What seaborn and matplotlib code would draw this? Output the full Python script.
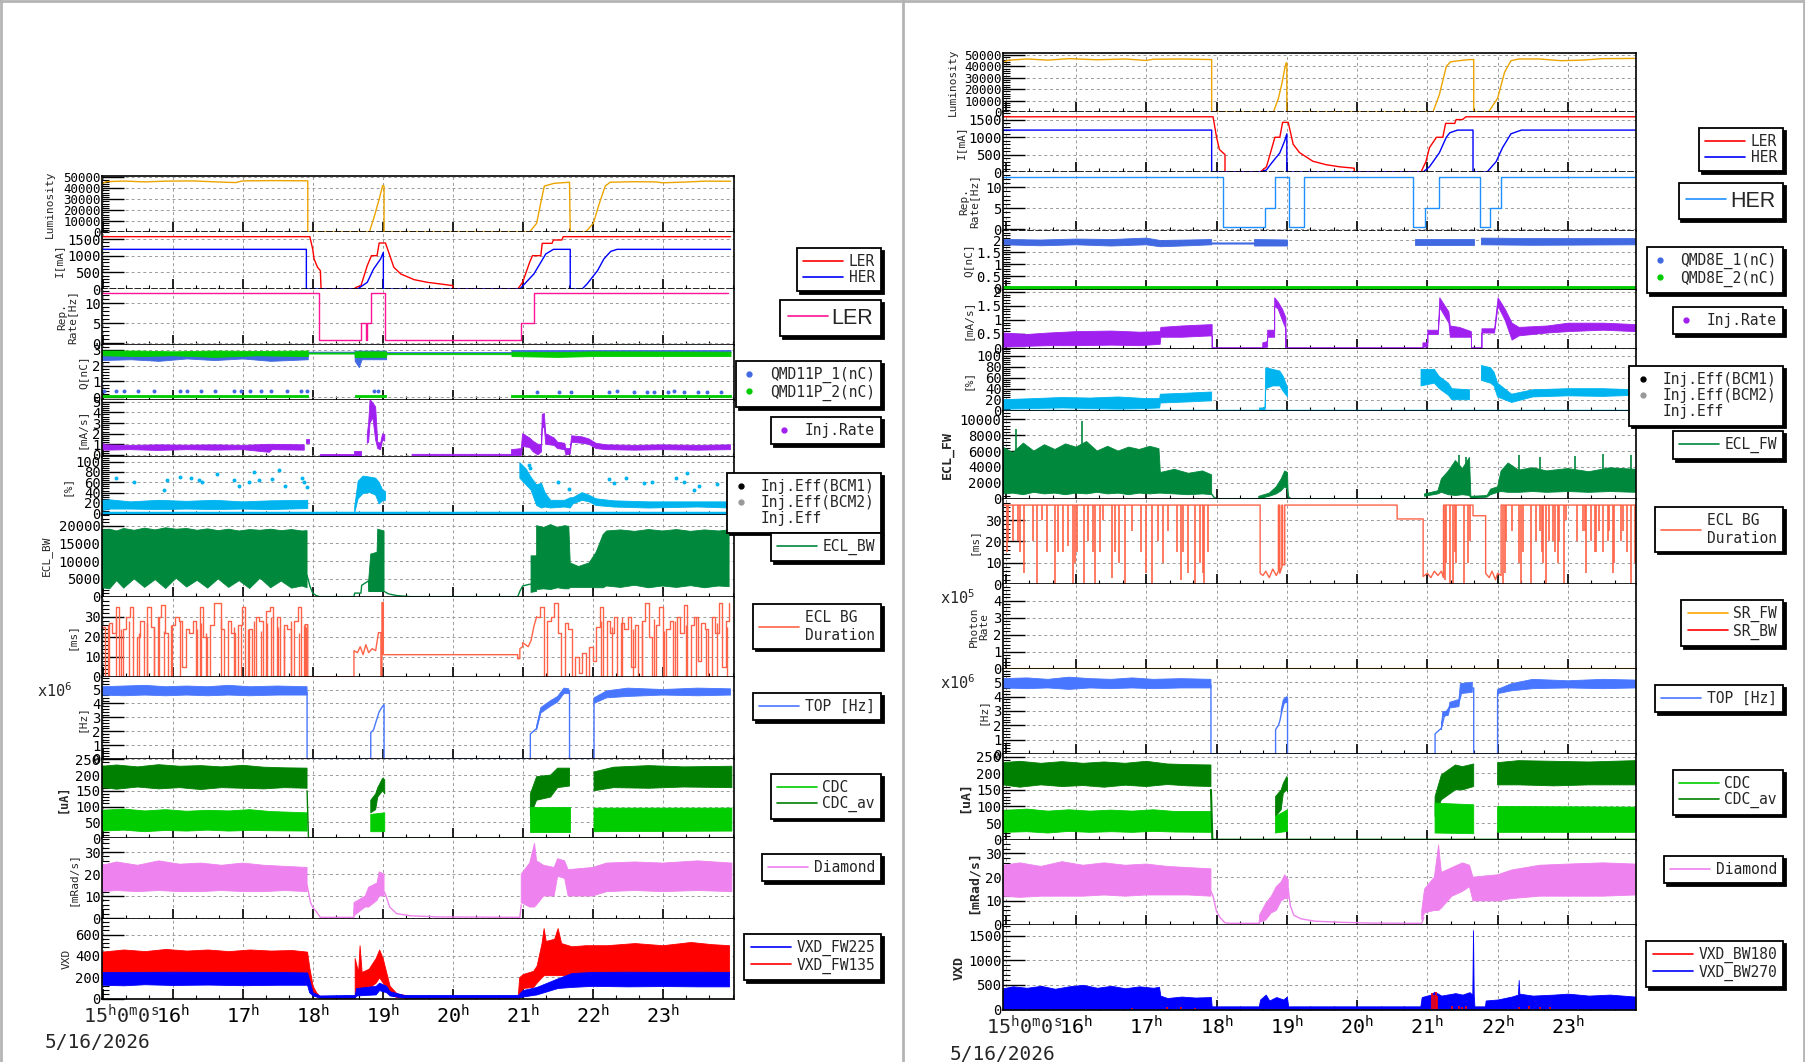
import numpy as np
import matplotlib
matplotlib.use("Agg")
import matplotlib.pyplot as plt
from matplotlib.lines import Line2D
from matplotlib.ticker import MultipleLocator, FuncFormatter
import seaborn as sns

nan = np.nan
W, H = 1806, 1062

# ======================= left canvas (LER side) =======================
lumi_l = [(14.99, 44000), (15.05, 46000), (15.3, 46600), (15.6, 45800), (15.9, 46500), (16.3, 46700),
          (16.7, 45600), (16.9, 45200), (17.0, 46700), (17.4, 47000), (17.93, 46800), (17.93, 0), (18.81, 0),
          (18.88, 14000), (18.95, 30000), (19.0, 42500), (19.02, 42000), (19.02, 0), (21.1, 0), (21.2, 8000),
          (21.27, 30000), (21.31, 42000), (21.45, 44500), (21.67, 45500), (21.68, 0), (21.9, 0), (22.01, 8000),
          (22.1, 27000), (22.18, 42000), (22.25, 45500), (22.6, 46000), (22.9, 45800), (23.0, 45000),
          (23.3, 45600), (23.6, 46500), (23.97, 46400)]
ler_l = [(14.99, 1570), (17.96, 1570), (18.0, 1200), (18.02, 900), (18.07, 650), (18.11, 550), (18.12, 0),
         (18.59, 0), (18.62, 50), (18.69, 100), (18.78, 700), (18.84, 1000), (18.92, 1000), (18.95, 1380),
         (19.04, 1380), (19.07, 1200), (19.16, 650), (19.26, 450), (19.45, 280), (19.64, 200), (19.83, 150),
         (19.97, 110), (20.0, 110), (20.0, 0), (20.93, 0), (21.0, 200), (21.1, 800), (21.14, 1000),
         (21.26, 1000), (21.28, 1370), (21.42, 1370), (21.44, 1470), (21.56, 1470), (21.58, 1570), (23.97, 1570)]
her_l = [(14.99, 1190), (17.91, 1190), (17.91, 0), (18.64, 0), (18.78, 200), (18.87, 600), (18.97, 900),
         (19.01, 1100), (19.01, 0), (20.96, 0), (21.16, 450), (21.26, 800), (21.33, 1050), (21.44, 1190),
         (21.68, 1190), (21.68, 0), (21.85, 0), (21.92, 150), (22.07, 550), (22.16, 900), (22.26, 1130),
         (22.35, 1190), (23.97, 1190)]
rep_l = [(14.99, 12.5), (18.09, 12.5), (18.09, 0.75), (18.69, 0.75), (18.69, 5), (18.755, 5), (18.755, 0.75),
         (18.77, 0.75), (18.77, 5), (18.83, 5), (18.83, 12.5), (19.03, 12.5), (19.03, 0.75), (20.98, 0.75),
         (20.98, 5), (21.16, 5), (21.16, 12.5), (23.94, 12.5)]
qmd1_l = [(14.99, 2.35, 2.85), (15.4, 2.4, 2.85), (15.8, 2.3, 2.8), (16.2, 2.45, 2.85), (16.6, 2.35, 2.8),
          (17.0, 2.45, 2.85), (17.4, 2.3, 2.8), (17.93, 2.4, 2.8), (17.93, 2.82, 2.88), (18.6, 2.82, 2.88),
          (18.6, 2.3, 2.95), (18.66, 1.9, 2.95), (18.7, 2.4, 2.95), (19.05, 2.4, 2.95), (19.05, 2.8, 2.86),
          (20.84, 2.8, 2.86), (20.84, 2.85, 2.98), (23.97, 2.85, 2.98)]
qmd2_l = [(14.99, 2.65, 2.95), (15.5, 2.6, 2.95), (16.0, 2.65, 2.9), (16.6, 2.55, 2.95), (17.2, 2.65, 2.92),
          (17.93, 2.6, 2.95), (17.93, 2.76, 2.82), (18.6, 2.76, 2.82), (18.6, 2.55, 2.9), (19.05, 2.55, 2.9),
          (19.05, 2.72, 2.79), (20.84, 2.72, 2.79), (20.84, 2.6, 2.88), (21.5, 2.55, 2.85), (22.0, 2.6, 2.9),
          (23.97, 2.6, 2.88)]
qmd2_low_l = [(14.99, 0.0, 0.13), (17.93, 0.0, 0.13), (17.93, nan, nan), (18.6, 0.0, 0.13), (19.05, 0.0, 0.13),
              (19.05, nan, nan), (20.84, 0.0, 0.13), (23.97, 0.0, 0.13)]
qmd1_dot_t = [15.02, 15.19, 15.3, 15.5, 15.73, 16.11, 16.21, 16.4, 16.61, 16.88, 16.97, 17.11, 17.26, 17.4,
              17.64, 17.83, 17.92, 18.87, 18.93, 21.21, 21.52, 21.69, 22.23, 22.35, 22.59, 22.78, 22.88, 23.07,
              23.16, 23.3, 23.5, 23.64, 23.83]
qmd1_dot_v = [0.4, 0.4, 0.38, 0.42, 0.4, 0.4, 0.38, 0.4, 0.42, 0.4, 0.4, 0.38, 0.4, 0.42, 0.4, 0.4, 0.38, 0.4,
              0.4, 0.36, 0.36, 0.36, 0.36, 0.38, 0.36, 0.36, 0.36, 0.36, 0.38, 0.36, 0.36, 0.36, 0.36]
injr_l = [(14.99, 0.5, 1.1), (15.05, 0.45, 0.95), (15.4, 0.5, 0.9), (15.8, 0.42, 0.95), (16.2, 0.5, 0.92),
          (16.6, 0.45, 0.95), (17.0, 0.5, 0.9), (17.38, 0.25, 1.0), (17.42, 0.5, 1.0), (17.88, 0.45, 0.95),
          (17.88, nan, nan), (17.9, 1.1, 1.5), (17.95, 1.1, 1.5), (17.95, nan, nan), (18.11, -0.06, 0.06),
          (18.59, -0.06, 0.06), (18.59, -0.05, 0.35), (18.69, -0.05, 0.35), (18.69, nan, nan),
          (18.78, 1.1, 1.9), (18.8, 1.2, 3.0), (18.82, 3.0, 5.2), (18.86, 3.5, 4.9), (18.9, 1.4, 4.5),
          (18.93, 0.6, 1.2), (18.97, 0.5, 1.1), (19.0, 1.4, 2.0), (19.03, 1.3, 1.9), (19.03, nan, nan),
          (19.42, -0.06, 0.06), (20.84, -0.06, 0.06), (20.84, -0.05, 0.5), (20.98, -0.05, 0.6),
          (21.0, 0.8, 2.0), (21.1, 0.7, 1.6), (21.15, 0.3, 1.3), (21.22, 0.0, 1.0), (21.27, 0.3, 1.0),
          (21.28, 2.5, 3.8), (21.31, 2.6, 3.9), (21.33, 1.0, 2.0), (21.45, 0.9, 1.6), (21.5, 0.6, 1.2),
          (21.6, 0.5, 1.1), (21.62, 0.0, 0.6), (21.68, 0.1, 0.6), (21.7, 1.2, 1.8), (21.85, 1.1, 1.7),
          (21.95, 1.0, 1.5), (22.05, 0.6, 1.1), (22.2, 0.5, 0.95), (22.6, 0.45, 0.9), (23.0, 0.5, 0.95),
          (23.5, 0.45, 0.9), (23.97, 0.5, 0.95)]
eff_l = [(14.99, 5, 25), (15.1, 8, 26), (15.4, 8, 22), (15.8, 7, 25), (16.2, 8, 23), (16.6, 7, 25),
         (17.0, 8, 22), (17.4, 7, 24), (17.93, 9, 25), (17.93, nan, nan), (18.6, 0, 12), (18.65, 28, 62),
         (18.72, 38, 72), (18.82, 40, 70), (18.9, 35, 68), (18.95, 18, 60), (19.0, 24, 45), (19.04, 25, 42),
         (19.04, nan, nan), (20.96, 68, 98), (21.05, 55, 86), (21.12, 45, 70), (21.2, 15, 55), (21.27, 10, 58),
         (21.32, 12, 40), (21.4, 10, 25), (21.6, 12, 25), (21.68, 10, 30), (21.72, 18, 30), (21.85, 25, 40),
         (21.95, 22, 35), (22.05, 15, 28), (22.3, 12, 24), (22.8, 10, 22), (23.5, 12, 22), (23.97, 10, 22)]
eff_dot_t = [15.19, 15.45, 15.88, 15.92, 16.11, 16.26, 16.38, 16.42, 16.64, 16.88, 16.95, 17.09, 17.16, 17.23,
             17.42, 17.52, 17.61, 17.85, 17.88, 17.92, 21.09, 21.11, 21.5, 21.66, 22.23, 22.3, 22.47, 22.73,
             22.85, 23.19, 23.3, 23.35, 23.45, 23.52, 23.78, 23.93]
eff_dot_v = [68, 61, 45, 65, 70, 68, 65, 61, 76, 65, 52, 61, 79, 65, 66, 83, 53, 68, 61, 50, 94, 87, 61, 46, 66,
             58, 68, 58, 60, 68, 60, 77, 45, 52, 56, 59]
eclbw_l = [(14.99, 2500, 18800), (15.1, 2200, 19000), (15.2, 4500, 18500), (15.3, 2400, 19200),
           (15.45, 5000, 18700), (15.6, 2600, 19300), (15.75, 4800, 18800), (15.9, 2300, 19400),
           (16.05, 5200, 19000), (16.2, 2700, 19200), (16.35, 4600, 18700), (16.5, 2400, 19100),
           (16.65, 5000, 18600), (16.8, 2600, 19000), (16.95, 4500, 18500), (17.1, 2300, 18900),
           (17.25, 5200, 18700), (17.4, 2500, 19000), (17.55, 4400, 18600), (17.7, 2400, 18900),
           (17.85, 3000, 18500), (17.92, 2500, 18600), (17.92, nan, nan), (18.8, 1500, 4500), (18.83, 1500, 12000),
           (18.92, 1500, 12500), (18.93, 1500, 19000), (19.02, 1500, 18500), (19.02, nan, nan),
           (21.12, 1200, 11500), (21.2, 1500, 11500), (21.2, 2000, 20000), (21.3, 2200, 19500),
           (21.4, 2000, 20300), (21.5, 2500, 19500), (21.6, 2200, 20000), (21.66, 2200, 19800),
           (21.68, 2600, 9500), (21.8, 2600, 8500), (21.95, 2600, 9500), (22.05, 2500, 12500),
           (22.15, 2500, 17500), (22.2, 3000, 18500), (22.4, 2600, 18800), (22.6, 3200, 18400),
           (22.8, 2500, 18900), (23.0, 3000, 18500), (23.2, 2600, 18900), (23.4, 3100, 18400),
           (23.6, 2500, 18800), (23.8, 3000, 18500), (23.95, 2800, 18800)]
eclbw_line_l = [(17.92, 6000), (17.96, 3000), (18.0, 1000), (18.05, 300), (18.1, 0), (18.59, 0), (18.6, 1000),
                (18.69, 1000), (18.7, 3200), (18.78, 4200), (18.8, 4500), (18.81, 1500), (19.02, 1500),
                (19.08, 800), (19.2, 300), (19.4, 0), (20.93, 0), (20.96, 1500), (21.0, 3000), (21.1, 3500),
                (21.12, 3500)]
ms_l_vals = [25, 0, 27, 22, 35, 0, 24, 30, 35, 0, 20, 28, 0, 35, 25, 0, 30, 36, 22, 0, 26, 30, 28, 5, 24, 22,
             28, 0, 35, 20, 0, 26, 37, 37, 24, 0, 28, 22, 0, 26, 35, 0, 24, 0, 30, 28, 0, 33, 35, 0, 30, 0, 26,
             24, 0, 28, 35, 0, 26]
ms_l_dip_t = [15.07, 15.19, 15.26, 15.38, 15.52, 15.64, 15.73, 15.8, 15.88, 15.97, 16.11, 16.35, 16.4, 16.47,
              16.69, 16.88, 16.97, 17.07, 17.16, 17.26, 17.35, 17.4, 17.5, 17.59, 17.69, 17.81, 17.88, 17.91]
ms_l_dip_top = [26, 30, 24, 28, 22, 27, 25, 30, 23, 26, 28, 24, 27, 22, 29, 25, 26, 24, 28, 23, 27, 30, 25, 24,
                28, 22, 26, 25]
ms_l_mid = [(17.89, 26), (17.93, 26), (17.93, 0), (18.59, 0), (18.59, 13), (18.64, 12), (18.68, 15), (18.72, 11),
            (18.76, 16), (18.8, 12), (18.85, 14), (18.9, 13), (18.94, 22), (18.975, 22), (18.975, 0), (18.99, 0),
            (18.99, 37), (19.01, 37), (19.01, 11), (20.93, 11), (20.93, 9), (20.96, 9), (20.96, 14), (21.0, 15),
            (21.0, 17), (21.08, 15), (21.12, 18), (21.16, 25), (21.2, 30)]
ms_l2_vals = [30, 35, 0, 28, 30, 37, 22, 0, 27, 24, 0, 10, 2, 12, 0, 15, 8, 25, 35, 0, 28, 22, 30, 0, 27, 24,
              30, 5, 26, 0, 28, 37, 20, 0, 26, 35, 0, 24, 28, 0, 30, 22, 36, 0, 26, 30, 8, 27, 24, 0, 30, 22, 37,
              5, 28, 37]
ms_l2_dip_t = [22.12, 22.27, 22.42, 22.58, 22.71, 22.87, 23.02, 23.17, 23.33, 23.47, 23.62, 23.78, 23.92]
ms_l2_dip_top = [28, 25, 30, 24, 27, 29, 23, 28, 26, 30, 24, 27, 25]
top_l = [(14.99, 4.6, 5.2), (15.3, 4.55, 5.25), (15.6, 4.6, 5.3), (15.9, 4.55, 5.2), (16.2, 4.6, 5.25),
         (16.5, 4.55, 5.2), (16.8, 4.6, 5.3), (17.1, 4.55, 5.2), (17.5, 4.6, 5.25), (17.92, 4.6, 5.2),
         (17.92, nan, nan), (21.2, 2.1, 2.4), (21.26, 3.3, 3.7), (21.4, 3.8, 4.2), (21.5, 4.1, 4.5),
         (21.59, 4.7, 5.1), (21.66, 4.7, 5.05), (21.66, nan, nan), (22.02, 4.0, 4.4), (22.2, 4.4, 4.9),
         (22.5, 4.5, 5.1), (23.0, 4.6, 5.0), (23.5, 4.55, 5.1), (23.97, 4.6, 5.05)]
top_line_l = [(17.92, 4.8), (17.92, 0), (18.83, 0), (18.83, 1.9), (18.87, 2.1), (18.9, 2.6), (18.95, 3.4),
              (19.0, 3.8), (19.02, 3.9), (19.02, 0), (21.11, 0), (21.11, 1.8), (21.2, 2.2), (21.26, 3.5),
              (21.4, 4.0), (21.5, 4.3), (21.59, 4.9), (21.67, 4.9), (21.67, 0), (22.02, 0), (22.02, 4.2)]
cdcav_l = [(14.99, 160, 228), (15.2, 155, 232), (15.5, 162, 226), (15.8, 156, 233), (16.1, 160, 228),
           (16.4, 154, 230), (16.7, 160, 226), (17.0, 158, 231), (17.3, 156, 225), (17.6, 160, 223),
           (17.92, 158, 222), (17.92, nan, nan), (18.83, 80, 120), (18.9, 90, 140), (18.93, 130, 160),
           (19.0, 150, 190), (19.03, 140, 185), (19.03, nan, nan), (21.11, 70, 140), (21.2, 120, 195),
           (21.4, 130, 200), (21.5, 160, 222), (21.67, 165, 222), (21.67, nan, nan), (22.02, 150, 210),
           (22.3, 160, 225), (22.8, 158, 230), (23.3, 162, 226), (23.99, 160, 228)]
cdc_l = [(14.99, 22, 88), (15.3, 25, 92), (15.6, 20, 86), (15.9, 24, 90), (16.2, 22, 85), (16.5, 25, 88),
         (16.8, 22, 86), (17.1, 24, 90), (17.4, 23, 84), (17.92, 22, 80), (17.92, nan, nan), (18.83, 20, 75),
         (19.03, 20, 80), (19.03, nan, nan), (21.11, 18, 100), (21.67, 18, 100), (21.67, nan, nan),
         (22.02, 20, 95), (23.99, 22, 95)]
cdc_line_l = [(17.92, 150), (17.94, 0), (23.99, 0)]
dia_l = [(14.99, 12, 24), (15.2, 12.5, 25.5), (15.5, 12, 24), (15.8, 12.5, 26), (16.1, 12, 24.5),
         (16.4, 12, 25), (16.7, 12.5, 24), (17.0, 12, 25), (17.3, 12, 24), (17.6, 12.5, 23.5), (17.92, 12, 23),
         (17.92, nan, nan), (18.59, 1, 7), (18.75, 5, 10), (18.8, 5, 14), (18.92, 8, 16), (18.95, 10, 21),
         (19.02, 10, 20), (19.02, nan, nan), (20.98, 7, 20), (21.1, 5, 25), (21.17, 5, 34), (21.2, 6, 26),
         (21.3, 10, 24), (21.45, 10, 23), (21.5, 19, 27), (21.6, 18, 26), (21.65, 10, 22), (22.0, 10, 23),
         (22.2, 12, 25), (22.6, 12.5, 25.5), (23.0, 12, 25), (23.5, 12.5, 26), (23.99, 12, 25)]
dia_line_l = [(17.92, 15), (17.97, 7), (18.0, 5), (18.05, 3), (18.11, 0.3), (18.59, 0.3), (18.59, 4),
              (19.02, 12), (19.05, 10), (19.1, 5), (19.2, 2), (19.4, 1), (19.8, 0.5), (20.96, 0.3), (20.98, 6)]
fw135_l = [(14.99, 200, 440), (15.3, 200, 460), (15.6, 200, 445), (15.9, 200, 465), (16.2, 200, 450),
           (16.5, 200, 460), (16.8, 200, 445), (17.1, 200, 460), (17.4, 200, 450), (17.7, 200, 455),
           (17.92, 200, 440), (17.95, 100, 300), (18.0, 50, 120), (18.05, 25, 60), (18.1, 10, 25), (18.6, 5, 15),
           (18.6, 20, 380), (18.65, 50, 250), (18.67, 100, 500), (18.7, 60, 250), (18.8, 100, 280),
           (18.9, 150, 380), (18.95, 200, 460), (19.0, 150, 380), (19.05, 100, 250), (19.1, 40, 120),
           (19.2, 15, 50), (19.4, 8, 25), (20.93, 5, 15), (20.95, 0, 200), (21.0, 100, 230), (21.15, 110, 260),
           (21.2, 150, 310), (21.27, 200, 520), (21.3, 220, 660), (21.33, 220, 540), (21.45, 220, 560),
           (21.5, 220, 660), (21.55, 220, 520), (21.7, 220, 490), (21.9, 220, 500), (22.2, 220, 500),
           (22.6, 220, 520), (23.0, 220, 500), (23.4, 220, 530), (23.7, 220, 510), (23.95, 220, 500)]
fw225_l = [(14.99, 130, 250), (15.3, 125, 248), (15.6, 135, 250), (16.0, 128, 252), (16.5, 132, 250),
           (17.0, 126, 248), (17.5, 130, 250), (17.92, 130, 245), (17.95, 60, 180), (18.0, 30, 60),
           (18.1, 10, 30), (18.6, 10, 35), (18.62, 30, 100), (18.9, 40, 120), (18.95, 80, 150), (19.05, 60, 120),
           (19.1, 30, 70), (19.3, 10, 35), (20.93, 10, 35), (21.0, 20, 80), (21.2, 40, 110), (21.5, 100, 190),
           (21.7, 110, 240), (22.0, 120, 250), (22.5, 115, 252), (23.0, 118, 250), (23.5, 115, 252),
           (23.95, 115, 250)]

# ======================= right canvas (HER side) =======================
lumi_r = [(14.96, 44000), (15.05, 45500), (15.3, 46500), (15.6, 45500), (15.9, 46800), (16.3, 45800),
          (16.7, 46500), (17.0, 45200), (17.1, 46300), (17.5, 46500), (17.93, 46000), (17.93, 0), (18.81, 0),
          (18.88, 12000), (18.93, 25000), (18.97, 38000), (18.99, 43000), (19.0, 43000), (19.0, 0), (21.08, 0),
          (21.17, 15000), (21.27, 40000), (21.33, 44000), (21.45, 45000), (21.6, 46000), (21.66, 46000),
          (21.66, 0), (21.87, 0), (22.0, 12000), (22.1, 35000), (22.19, 45000), (22.3, 46500), (22.6, 46500),
          (22.9, 45000), (23.2, 45500), (23.5, 46800), (23.96, 47000)]
ler_r = [(14.96, 1590), (17.95, 1590), (18.0, 1000), (18.04, 650), (18.12, 500), (18.12, 0), (18.62, 0),
         (18.64, 30), (18.71, 150), (18.76, 500), (18.83, 1000), (18.9, 1000), (18.94, 1430), (19.02, 1430),
         (19.09, 800), (19.18, 560), (19.37, 310), (19.56, 210), (19.75, 150), (19.96, 110), (19.96, 0),
         (20.91, 0), (20.98, 300), (21.03, 700), (21.13, 1000), (21.22, 1000), (21.26, 1400), (21.39, 1400),
         (21.41, 1510), (21.5, 1510), (21.55, 1590), (23.96, 1590)]
her_r = [(14.96, 1207), (17.93, 1207), (17.93, 0), (18.63, 0), (18.71, 60), (18.78, 250), (18.9, 550),
         (18.97, 900), (19.0, 1100), (19.0, 0), (20.94, 0), (21.03, 150), (21.17, 550), (21.27, 1000),
         (21.32, 1130), (21.43, 1207), (21.65, 1207), (21.65, 0), (21.85, 0), (21.98, 300), (22.07, 700),
         (22.19, 1100), (22.34, 1207), (23.96, 1207)]
rep_r = [(14.96, 12.5), (18.09, 12.5), (18.09, 0.5), (18.69, 0.5), (18.69, 5), (18.83, 5), (18.83, 12.5),
         (19.03, 12.5), (19.03, 0.5), (19.24, 0.5), (19.24, 12.5), (20.79, 12.5), (20.79, 0.5), (20.97, 0.5),
         (20.97, 5), (21.16, 5), (21.16, 12.5), (21.75, 12.5), (21.75, 0.5), (21.89, 0.5), (21.89, 5),
         (22.05, 5), (22.05, 12.5), (23.96, 12.5)]
qmd1_r = [(14.96, 1.8, 2.02), (15.5, 1.76, 2.0), (16.0, 1.8, 2.04), (16.5, 1.75, 2.02), (17.0, 1.8, 2.08),
          (17.2, 1.72, 1.98), (17.6, 1.76, 2.0), (17.93, 1.8, 2.02), (17.93, 1.83, 1.88), (18.54, 1.83, 1.88),
          (18.54, 1.75, 2.02), (19.01, 1.75, 2.0), (19.01, nan, nan), (20.83, 1.8, 2.05), (21.67, 1.8, 2.05),
          (21.67, nan, nan), (21.77, 1.8, 2.08), (22.5, 1.78, 2.06), (23.96, 1.8, 2.06)]
qmd2_r = [(14.96, -0.02, 0.07), (23.96, -0.02, 0.07)]
injr_r = [(14.96, 0.05, 0.55), (15.3, 0.08, 0.5), (15.6, 0.1, 0.55), (16.0, 0.1, 0.6), (16.5, 0.12, 0.62),
          (16.9, 0.1, 0.58), (17.19, 0.15, 0.6), (17.2, 0.4, 0.75), (17.5, 0.4, 0.8), (17.93, 0.45, 0.85),
          (17.93, -0.03, 0.03), (18.65, -0.03, 0.03), (18.65, 0.0, 0.2), (18.72, 0.05, 0.25), (18.72, 0.4, 0.65),
          (18.82, 0.4, 0.65), (18.82, 1.5, 1.8), (18.87, 1.4, 1.65), (18.93, 1.0, 1.4), (18.98, 0.7, 1.1),
          (18.98, -0.03, 0.03), (20.93, -0.03, 0.03), (20.93, 0.05, 0.2), (21.0, 0.05, 0.2), (21.0, 0.5, 0.65),
          (21.15, 0.5, 0.65), (21.17, 1.45, 1.8), (21.3, 0.9, 1.3), (21.32, 0.4, 0.8), (21.45, 0.4, 0.75),
          (21.62, 0.4, 0.6), (21.62, -0.03, 0.03), (21.77, -0.03, 0.03), (21.77, 0.55, 0.7), (21.95, 0.55, 0.7),
          (22.0, 1.5, 1.8), (22.1, 1.0, 1.4), (22.2, 0.3, 0.9), (22.3, 0.45, 0.75), (22.7, 0.55, 0.8),
          (23.0, 0.6, 0.9), (23.5, 0.65, 0.9), (23.96, 0.6, 0.85)]
eff_r = [(14.96, 3, 20), (15.4, 4, 22), (15.8, 5, 24), (16.2, 4, 23), (16.6, 3, 25), (17.0, 4, 22),
         (17.19, 5, 22), (17.2, 14, 30), (17.6, 16, 32), (17.93, 18, 34), (17.93, nan, nan), (18.61, 0, 5),
         (18.69, 0, 5), (18.7, 40, 78), (18.8, 45, 75), (18.9, 45, 72), (18.95, 35, 62), (19.01, 25, 42),
         (19.01, nan, nan), (20.91, 45, 75), (21.1, 50, 75), (21.17, 40, 62), (21.3, 28, 50), (21.35, 20, 40),
         (21.6, 20, 38), (21.6, nan, nan), (21.77, 55, 82), (21.9, 50, 78), (21.95, 45, 70), (22.0, 25, 50),
         (22.2, 15, 30), (22.5, 25, 38), (23.0, 27, 40), (23.5, 26, 40), (23.96, 28, 38)]
eclfw_r = [(14.96, 600, 6500), (15.1, 700, 5800), (15.25, 500, 7000), (15.4, 800, 6000), (15.55, 600, 6800),
           (15.7, 700, 6200), (15.85, 500, 6900), (16.0, 700, 6500), (16.15, 600, 7200), (16.3, 800, 6000),
           (16.45, 600, 6600), (16.6, 700, 6000), (16.75, 500, 6500), (16.9, 700, 6200), (17.05, 600, 6600),
           (17.18, 700, 6300), (17.2, 700, 3300), (17.4, 600, 3700), (17.6, 500, 3200), (17.8, 600, 3500),
           (17.93, 500, 3000), (17.93, nan, nan), (18.6, 0, 300), (18.75, 300, 700), (18.85, 600, 1500),
           (18.92, 1000, 2500), (18.97, 1500, 3500), (19.01, 1200, 3300), (19.02, 0, 300), (19.05, 0, 100),
           (19.05, nan, nan), (20.96, 300, 600), (21.15, 600, 1000), (21.2, 800, 2500), (21.3, 500, 3500),
           (21.4, 400, 4800), (21.5, 500, 3800), (21.6, 400, 5200), (21.62, 0, 300), (21.85, 200, 400),
           (21.9, 500, 1200), (22.0, 800, 1500), (22.05, 900, 3500), (22.15, 800, 4500), (22.3, 800, 3600),
           (22.5, 900, 3900), (22.7, 800, 3500), (23.0, 900, 3800), (23.3, 800, 3400), (23.6, 900, 3900),
           (23.96, 800, 3700)]
eclfw_line_r = [(17.93, 600), (17.96, 200), (18.0, 0), (20.96, 0)]
eclfw_spk_t = [15.14, 16.08, 21.45, 21.55, 22.3, 22.6, 23.1, 23.5, 23.9]
eclfw_spk_v = [8800, 9800, 5500, 5300, 5500, 5200, 5400, 5600, 5500]
ms_base_r = [(14.96, 37), (18.62, 37), (18.62, 5), (18.66, 4), (18.7, 6), (18.75, 3), (18.8, 7), (18.85, 4),
             (18.88, 6), (18.88, 37), (18.9, 37), (18.9, 5), (18.93, 8), (18.93, 37), (18.94, 37), (18.94, 9),
             (18.97, 9), (18.97, 37), (20.57, 37), (20.57, 30.5), (20.94, 30.5), (20.94, 3.5), (21.0, 5),
             (21.05, 3), (21.1, 6), (21.15, 4), (21.2, 6), (21.23, 3), (21.23, 37), (21.65, 37), (21.65, 32),
             (21.83, 32), (21.83, 5), (21.88, 3), (21.92, 6), (21.97, 2), (22.0, 5), (22.05, 4), (22.05, 37),
             (23.96, 37)]
dip_r_t = [15.01, 15.03, 15.10, 15.18, 15.20, 15.26, 15.38, 15.45, 15.52, 15.58, 15.70, 15.74, 15.82, 15.89,
           15.96, 15.98, 16.01, 16.12, 16.17, 16.24, 16.27, 16.34, 16.38, 16.51, 16.55, 16.61, 16.70, 16.79,
           16.93, 16.99, 17.08, 17.17, 17.24, 17.31, 17.43, 17.49, 17.52, 17.59, 17.69, 17.76, 17.81, 17.82,
           17.88, 21.245, 21.27, 21.32, 21.36, 21.39, 21.41, 21.52, 21.58, 21.61, 22.07, 22.10, 22.12, 22.21,
           22.31, 22.34, 22.36, 22.48, 22.55, 22.60, 22.63, 22.64, 22.69, 22.73, 22.79, 22.81, 22.86, 22.88,
           22.94, 22.98, 23.13, 23.21, 23.24, 23.26, 23.33, 23.38, 23.40, 23.45, 23.50, 23.57, 23.59, 23.64,
           23.66, 23.76, 23.79, 23.84, 23.90, 23.95]
dip_r_v = [15, 20, 20, 20, 15, 5, 20, 0, 30, 15, 0, 15, 15, 18, 0, 10, 15, 0, 20, 15, 0, 15, 30, 3, 15, 10, 0,
           25, 15, 5, 0, 20, 10, 25, 15, 2, 15, 5, 0, 10, 5, 0, 15, 2, 10, 0, 0, 15, 10, 0, 10, 20, 0, 5, 20, 25,
           10, 0, 15, 0, 20, 25, 15, 10, 0, 20, 20, 15, 10, 20, 0, 30, 20, 25, 25, 5, 20, 15, 15, 25, 15, 20, 25,
           5, 10, 20, 25, 15, 0, 10]
sr_fw_r = [(14.96, 0), (23.96, 0)]
sr_bw_r = [(14.96, 0), (23.96, 0)]
top_r = [(14.96, 4.6, 5.25), (15.3, 4.55, 5.3), (15.6, 4.6, 5.2), (15.9, 4.5, 5.35), (16.2, 4.6, 5.25),
         (16.5, 4.55, 5.2), (16.8, 4.6, 5.3), (17.1, 4.55, 5.2), (17.5, 4.6, 5.25), (17.92, 4.6, 5.2),
         (17.92, nan, nan), (18.92, 2.8, 3.1), (18.95, 3.5, 3.8), (19.0, 3.6, 4.0), (19.01, 3.6, 3.95),
         (19.01, nan, nan), (21.2, 1.7, 2.0), (21.22, 2.6, 2.95), (21.3, 2.7, 3.0), (21.32, 3.2, 3.6),
         (21.45, 3.3, 3.8), (21.47, 4.2, 4.9), (21.64, 4.3, 5.0), (21.64, nan, nan), (22.0, 4.2, 4.5),
         (22.2, 4.4, 4.9), (22.5, 4.55, 5.2), (23.0, 4.6, 5.1), (23.5, 4.55, 5.2), (23.96, 4.6, 5.15)]
top_line_r = [(17.92, 4.8), (17.92, 0), (18.84, 0), (18.84, 1.7), (18.88, 2.0), (18.9, 2.3), (18.93, 3.0),
              (18.97, 3.7), (19.01, 3.9), (19.01, 0), (21.11, 0), (21.11, 1.4), (21.2, 1.8), (21.25, 2.8),
              (21.32, 3.3), (21.45, 3.6), (21.5, 4.5), (21.66, 4.6), (21.66, 0), (22.0, 0), (22.0, 4.3)]
cdcav_r = [(14.96, 165, 232), (15.2, 158, 236), (15.5, 165, 230), (15.8, 160, 235), (16.1, 163, 230),
           (16.4, 158, 234), (16.7, 164, 230), (17.0, 160, 236), (17.3, 166, 228), (17.6, 162, 226),
           (17.92, 160, 225), (17.92, nan, nan), (18.84, 70, 130), (18.92, 90, 150), (18.95, 140, 170),
           (19.0, 150, 190), (19.01, 145, 185), (19.01, nan, nan), (21.11, 70, 130), (21.2, 120, 195),
           (21.4, 150, 225), (21.5, 150, 220), (21.66, 160, 228), (21.66, nan, nan), (22.0, 165, 232),
           (22.3, 165, 238), (22.8, 162, 236), (23.3, 165, 234), (23.96, 165, 238)]
cdc_r = [(14.96, 22, 88), (15.3, 24, 92), (15.6, 20, 86), (15.9, 25, 90), (16.2, 22, 86), (16.5, 24, 89),
         (16.8, 22, 86), (17.1, 25, 90), (17.4, 23, 85), (17.92, 22, 85), (17.92, nan, nan), (18.84, 20, 70),
         (19.01, 25, 90), (19.01, nan, nan), (21.11, 20, 110), (21.66, 18, 105), (21.66, nan, nan),
         (22.0, 22, 100), (23.96, 22, 98)]
cdc_line_r = [(17.92, 150), (17.94, 0), (23.96, 0)]
dia_r = [(14.96, 12, 25), (15.2, 11.5, 26), (15.5, 12, 24.5), (15.8, 12, 26.5), (16.1, 12, 25), (16.4, 12.5, 26),
         (16.7, 12, 25), (17.0, 12.5, 25.5), (17.3, 12.5, 24.5), (17.6, 12.5, 24), (17.92, 12, 23.5),
         (17.92, nan, nan), (18.61, 1, 4), (18.7, 2, 9), (18.78, 5, 12), (18.85, 6, 16), (18.92, 10, 18),
         (18.97, 11, 21), (19.02, 11, 19), (19.02, nan, nan), (20.92, 2, 6), (20.96, 5, 15), (21.1, 6, 20),
         (21.16, 6, 33.5), (21.2, 7, 22), (21.35, 12, 24), (21.5, 14, 26), (21.6, 16, 25), (21.65, 10, 20),
         (22.0, 10, 21), (22.2, 11, 23), (22.6, 12, 25), (23.0, 12, 25.5), (23.5, 12, 26), (23.96, 12.5, 25.5)]
dia_line_r = [(17.92, 14), (17.95, 12), (18.0, 5.5), (18.05, 3), (18.12, 0.8), (18.2, 0.6), (18.61, 0.6),
              (18.61, 2), (19.02, 15), (19.05, 8), (19.1, 4), (19.2, 2.5), (19.4, 1.5), (19.8, 1.0), (20.2, 0.7),
              (20.92, 0.6), (20.95, 3)]
bw270_r = [(14.96, 0, 430), (15.1, 0, 470), (15.3, 0, 440), (15.5, 0, 480), (15.7, 0, 420), (15.9, 0, 470),
           (16.1, 0, 500), (16.3, 0, 440), (16.5, 0, 480), (16.7, 0, 430), (16.9, 0, 470), (17.1, 0, 440),
           (17.18, 0, 460), (17.2, 0, 280), (17.3, 0, 230), (17.5, 0, 260), (17.7, 0, 240), (17.92, 0, 250),
           (17.93, 0, 60), (18.6, 0, 60), (18.62, 0, 200), (18.7, 0, 300), (18.75, 0, 180), (18.85, 0, 250),
           (18.95, 0, 200), (19.0, 0, 260), (19.02, 0, 60), (20.9, 0, 60), (20.92, 0, 250), (21.05, 0, 300),
           (21.1, 0, 360), (21.2, 0, 280), (21.4, 0, 330), (21.5, 0, 300), (21.6, 0, 350), (21.64, 0, 300),
           (21.65, 0, 1620), (21.66, 0, 300), (21.67, 0, 60), (21.82, 0, 60), (21.83, 0, 180), (22.0, 0, 200),
           (22.2, 0, 260), (22.29, 0, 300), (22.3, 0, 600), (22.31, 0, 320), (22.5, 0, 280), (22.8, 0, 300),
           (23.0, 0, 320), (23.3, 0, 280), (23.6, 0, 300), (23.96, 0, 260)]
bw180_t = [16.8, 17.3, 17.5, 17.7, 21.07, 21.09, 21.12, 21.14, 21.35, 21.45, 21.5, 21.55, 22.3, 22.45, 22.6, 22.75]
bw180_v = [30, 40, 40, 35, 330, 300, 360, 280, 60, 60, 55, 60, 50, 60, 50, 45]

# ----------------------------- style -----------------------------
sns.set_theme(style="white")
plt.rcParams["font.family"] = ["DejaVu Sans Mono", "DejaVu Sans"]
plt.rcParams["mathtext.fontset"] = "custom"
plt.rcParams["mathtext.rm"] = "DejaVu Sans Mono"
plt.rcParams["axes.edgecolor"] = "black"
plt.rcParams["axes.linewidth"] = 1.2

fig = plt.figure(figsize=(W / 100, H / 100), dpi=100)


def line(ax, pts, color, lw=1.0, steps=False):
    t, v = zip(*pts)
    kw = {"drawstyle": "steps-post"} if steps else {}
    sns.lineplot(x=list(t), y=list(v), ax=ax, color=color, linewidth=lw,
                 estimator=None, sort=False, errorbar=None, **kw)


def band(ax, pts, color):
    t, lo, hi = (np.asarray(c, dtype=float) for c in zip(*pts))
    ax.fill_between(t, lo, hi, color=color, linewidth=0.6)


def dots(ax, t, v, color):
    sns.scatterplot(x=t, y=v, ax=ax, color=color, s=8, linewidth=0)


def panel_axes(x0, x1, edges):
    return [fig.add_axes([x0 / W, 1 - b / H, (x1 - x0) / W, (b - a) / H])
            for a, b in zip(edges[:-1], edges[1:])]


def style(ax, xlim, spec, first, last, dashed):
    ylim, major, minor = spec
    ax.set_xlim(*xlim)
    ax.set_ylim(*ylim)
    ax.yaxis.set_major_locator(MultipleLocator(major))
    ax.yaxis.set_minor_locator(MultipleLocator(minor))
    ax.yaxis.set_major_formatter(FuncFormatter(lambda v, p: f"{v:g}"))
    ax.set_xticks(range(15, 24))
    ax.xaxis.set_minor_locator(MultipleLocator(1 / 3))
    size = 9 if major == 10000 else 10
    ax.tick_params(axis="y", which="major", direction="in", length=16, width=1.0, labelsize=size,
                   pad=1, left=True, right=False, color="black", labelcolor="black")
    ax.tick_params(axis="y", which="minor", direction="in", length=5, width=0.8, left=True, color="black")
    ax.tick_params(axis="x", which="major", direction="in", length=7, width=1.2, bottom=True, top=False,
                   labelbottom=last, labelsize=14.5, pad=4, color="black", labelcolor="black")
    ax.tick_params(axis="x", which="minor", direction="in", length=3, width=0.8, bottom=True, color="black")
    ax.grid(True, which="major", color="#9a9a9a", linestyle=(0, (3, 3)), linewidth=0.7)
    ax.set_axisbelow(True)
    ax.spines["top"].set_visible(first)
    if dashed:
        ax.spines["bottom"].set_linestyle((0, (3, 2)))
    ax.set_xlabel("")
    ax.set_ylabel("")
    if last:
        ax.set_xticklabels([""] + [f"{h}$^{{\\mathrm{{h}}}}$" for h in range(16, 24)])
        ax.annotate("15$^{\\mathrm{h}}$0$^{\\mathrm{m}}$0$^{\\mathrm{s}}$", xy=(15.26, 0),
                    xycoords=("data", "axes fraction"), xytext=(0, -4), textcoords="offset points",
                    ha="center", va="top", fontsize=14.5)


def box(handles, labels, x1, y0, size=10.5, family="DejaVu Sans Mono", hl=2.74, htp=0.38, bp=0.42):
    lg = fig.legend(handles, labels, loc="upper right", bbox_to_anchor=(x1 / W, 1 - y0 / H),
                    borderaxespad=0, prop={"family": family, "size": size}, handlelength=hl,
                    handletextpad=htp, borderpad=bp, labelspacing=0.08, fancybox=False,
                    framealpha=1, edgecolor="black", shadow={"color": "black", "alpha": 1})
    lg.get_frame().set_linewidth(1.3)


def hl_(c):
    return Line2D([], [], color=c, lw=1.2)


def hd_(c, ms=3.5):
    return Line2D([], [], color=c, ls="none", marker="o", ms=ms)


# colours
C_LUM, C_LER, C_HER = "#eca400", "#ff0000", "#0000ff"
C_Q1, C_Q2, C_INJ, C_EFF = "#4169e1", "#00cc00", "#a020f0", "#00b4f0"
C_ECL, C_DUR, C_TOP = "#00883c", "#ff6347", "#4876ff"
C_CDC, C_CDCAV, C_DIA = "#00cc00", "#008000", "#ee82ee"

# ============================ left canvas ============================
L_edges = [176, 232, 289, 345, 400, 457, 515, 597, 677, 759, 838, 919, 999]
L_xlim = (14.99, 24.02)
L_specs = [((0, 51200), 10000, 2000), ((0, 1710), 500, 100), ((-0.4, 13.6), 5, 1), ((-0.17, 3.3), 1, 0.2),
           ((-0.19, 5.16), 1, 0.2), ((-3.5, 109), 20, 4), ((-100, 23000), 5000, 1000), ((-0.15, 39.8), 10, 2),
           ((0, 5.9), 1, 0.2), ((0, 251), 50, 10), ((-0.45, 36.4), 10, 2), ((-3, 745), 200, 40)]
axL = panel_axes(102, 734, L_edges)

line(axL[0], lumi_l, C_LUM)
line(axL[1], ler_l, C_LER)
line(axL[1], her_l, C_HER)
line(axL[2], rep_l, "#ff1493")
band(axL[3], qmd1_l, C_Q1)
band(axL[3], qmd2_l, C_Q2)
band(axL[3], qmd2_low_l, C_Q2)
dots(axL[3], qmd1_dot_t, qmd1_dot_v, C_Q1)
band(axL[4], injr_l, C_INJ)
line(axL[5], [(14.99, 0), (23.97, 0)], C_EFF, lw=2.5)
band(axL[5], eff_l, C_EFF)
dots(axL[5], eff_dot_t, eff_dot_v, C_EFF)
band(axL[6], eclbw_l, C_ECL)
line(axL[6], eclbw_line_l, C_ECL)
ms_l_t = np.round(14.99 + 0.05 * np.arange(len(ms_l_vals)), 3)
line(axL[7], list(zip(ms_l_t, ms_l_vals)), C_DUR, steps=True)
axL[7].vlines(ms_l_dip_t, 0, ms_l_dip_top, color=C_DUR, lw=1.0)
line(axL[7], ms_l_mid, C_DUR)
ms_l2_t = np.round(21.2 + 0.05 * np.arange(len(ms_l2_vals)), 3)
line(axL[7], list(zip(ms_l2_t, ms_l2_vals)), C_DUR, steps=True)
axL[7].vlines(ms_l2_dip_t, 0, ms_l2_dip_top, color=C_DUR, lw=1.0)
band(axL[8], top_l, C_TOP)
line(axL[8], top_line_l, C_TOP)
band(axL[9], cdcav_l, C_CDCAV)
band(axL[9], cdc_l, C_CDC)
line(axL[9], cdc_line_l, C_CDCAV)
band(axL[10], dia_l, C_DIA)
line(axL[10], dia_line_l, C_DIA)
band(axL[11], fw135_l, "#ff0000")
band(axL[11], fw225_l, "#0000ff")

for i, ax in enumerate(axL):
    style(ax, L_xlim, L_specs[i], i == 0, i == len(axL) - 1, i in (0, 1))

L_labels = ["Luminosity", "I[mA]", "Rep.\nRate[Hz]", "Q[nC]", "[mA/s]", "[%]", "ECL_BW", "[ms]", "[Hz]",
            "[uA]", "[mRad/s]", "VXD"]
L_lab_x = [50, 59, 67, 83, 82, 67, 46, 72, 82, 63, 73, 67]
for x, a, b, s in zip(L_lab_x, L_edges[:-1], L_edges[1:], L_labels):
    bold = s == "[uA]"
    fig.text(x / W, 1 - (a + b) / 2 / H, s, rotation=90, ha="center", va="center",
             fontsize=8.5 if bold else 8, fontweight="bold" if bold else "normal", linespacing=1.0)
fig.text(37 / W, 1 - 691 / H, "x10$^{6}$", fontsize=11, va="center", ha="left")
fig.text(45 / W, 1 - 1043 / H, "5/16/2026", fontsize=14, va="center", ha="left")

box([hl_(C_LER), hl_(C_HER)], ["LER", "HER"], 881, 248)
box([hl_("#ff1493")], ["LER"], 881, 300, size=15.5, family="Liberation Sans", hl=1.86, htp=0.19, bp=0.35)
box([hd_(C_Q1), hd_(C_Q2)], ["QMD11P_1(nC)", "QMD11P_2(nC)"], 881, 361, hl=1.0, htp=0.9)
box([hd_(C_INJ)], ["Inj.Rate"], 881, 417, hl=1.0, htp=0.9)
box([hd_("black"), hd_("#999999"), hd_(C_EFF, 0)], ["Inj.Eff(BCM1)", "Inj.Eff(BCM2)", "Inj.Eff"], 881, 473,
    hl=1.0, htp=0.9)
box([hl_(C_ECL)], ["ECL_BW"], 881, 533)
box([hl_(C_DUR)], ["ECL BG\nDuration"], 881, 604)
box([hl_(C_TOP)], ["TOP [Hz]"], 881, 693)
box([hl_(C_CDC), hl_(C_CDCAV)], ["CDC", "CDC_av"], 881, 774)
box([hl_(C_DIA)], ["Diamond"], 881, 854)
box([hl_("#0000ff"), hl_("#ff0000")], ["VXD_FW225", "VXD_FW135"], 881, 934)

# ============================ right canvas ============================
R_edges = [53, 112, 172, 231, 290, 349, 411, 499, 584, 669, 754, 840, 925, 1010]
R_xlim = (14.96, 23.97)
R_specs = [((0, 51750), 10000, 2000), ((0, 1728), 500, 100), ((-0.4, 13.6), 5, 1), ((-0.08, 2.375), 0.5, 0.1),
           ((-0.035, 2.06), 0.5, 0.1), ((-0.5, 112), 20, 4), ((-40, 11045), 2000, 400), ((0, 39.85), 10, 2),
           ((-0.02, 4.98), 1, 0.2), ((0, 5.92), 1, 0.2), ((-1, 258), 50, 10), ((-0.1, 35.6), 10, 2),
           ((-15, 1725), 500, 100)]
axR = panel_axes(1003, 1636, R_edges)

line(axR[0], lumi_r, C_LUM)
line(axR[1], ler_r, C_LER)
line(axR[1], her_r, C_HER)
line(axR[2], rep_r, "#1e90ff")
band(axR[3], qmd1_r, C_Q1)
band(axR[3], qmd2_r, C_Q2)
band(axR[4], injr_r, C_INJ)
line(axR[5], [(14.96, 0), (23.96, 0)], C_EFF, lw=2.5)
band(axR[5], eff_r, C_EFF)
band(axR[6], eclfw_r, C_ECL)
line(axR[6], eclfw_line_r, C_ECL)
axR[6].vlines(eclfw_spk_t, 1000, eclfw_spk_v, color=C_ECL, lw=1.2)
line(axR[7], ms_base_r, C_DUR)
axR[7].vlines(dip_r_t, dip_r_v, 37, color=C_DUR, lw=1.2)
line(axR[8], sr_bw_r, "#ff0000", lw=1.2)
line(axR[8], sr_fw_r, "#ffa500", lw=1.5)
band(axR[9], top_r, C_TOP)
line(axR[9], top_line_r, C_TOP)
band(axR[10], cdcav_r, C_CDCAV)
band(axR[10], cdc_r, C_CDC)
line(axR[10], cdc_line_r, C_CDCAV, lw=1.5)
band(axR[11], dia_r, C_DIA)
line(axR[11], dia_line_r, C_DIA)
band(axR[12], bw270_r, "#0000ff")
axR[12].vlines(bw180_t, 0, bw180_v, color="#ff0000", lw=1.2)

for i, ax in enumerate(axR):
    style(ax, R_xlim, R_specs[i], i == 0, i == len(axR) - 1, i in (0, 1, 2))

R_labels = ["Luminosity", "I[mA]", "Rep.\nRate[Hz]", "Q[nC]", "[mA/s]", "[%]", "ECL_FW", "[ms]", "Photon\nRate",
            "[Hz]", "[uA]", "[mRad/s]", "VXD"]
R_lab_x = [953, 961, 969, 968, 968, 968, 947, 974, 979, 983, 964, 973, 959]
R_bold = ["ECL_FW", "[uA]", "[mRad/s]", "VXD"]
for x, a, b, s in zip(R_lab_x, R_edges[:-1], R_edges[1:], R_labels):
    bold = s in R_bold
    fig.text(x / W, 1 - (a + b) / 2 / H, s, rotation=90, ha="center", va="center",
             fontsize=9.5 if bold else 8, fontweight="bold" if bold else "normal", linespacing=1.0)
fig.text(940 / W, 1 - 598 / H, "x10$^{5}$", fontsize=11, va="center", ha="left")
fig.text(940 / W, 1 - 683 / H, "x10$^{6}$", fontsize=11, va="center", ha="left")
fig.text(950 / W, 1 - 1054 / H, "5/16/2026", fontsize=14, va="center", ha="left")

box([hl_(C_LER), hl_(C_HER)], ["LER", "HER"], 1783, 128)
box([hl_("#1e90ff")], ["HER"], 1783, 183, size=15.5, family="Liberation Sans", hl=1.86, htp=0.19, bp=0.35)
box([hd_(C_Q1), hd_(C_Q2)], ["QMD8E_1(nC)", "QMD8E_2(nC)"], 1783, 247, hl=1.0, htp=0.9)
box([hd_(C_INJ)], ["Inj.Rate"], 1783, 307, hl=1.0, htp=0.9)
box([hd_("black"), hd_("#999999"), hd_(C_EFF, 0)], ["Inj.Eff(BCM1)", "Inj.Eff(BCM2)", "Inj.Eff"], 1783, 366,
    hl=1.0, htp=0.9)
box([hl_(C_ECL)], ["ECL_FW"], 1783, 431)
box([hl_(C_DUR)], ["ECL BG\nDuration"], 1783, 507)
box([hl_("#ffa500"), hl_("#ff0000")], ["SR_FW", "SR_BW"], 1783, 600)
box([hl_(C_TOP)], ["TOP [Hz]"], 1783, 685)
box([hl_(C_CDC), hl_(C_CDCAV)], ["CDC", "CDC_av"], 1783, 770)
box([hl_(C_DIA)], ["Diamond"], 1783, 856)
box([hl_("#ff0000"), hl_("#0000ff")], ["VXD_BW180", "VXD_BW270"], 1783, 941)

# canvas frames
for xs, ys in [((1, 1), (0, H)), ((903, 903), (0, H)), ((1804, 1804), (0, H)), ((0, W), (1, 1))]:
    fig.add_artist(Line2D([x / W for x in xs], [1 - y / H for y in ys], color="#b4b4b4", lw=2,
                          transform=fig.transFigure))

fig.savefig("out.png", dpi=100)
